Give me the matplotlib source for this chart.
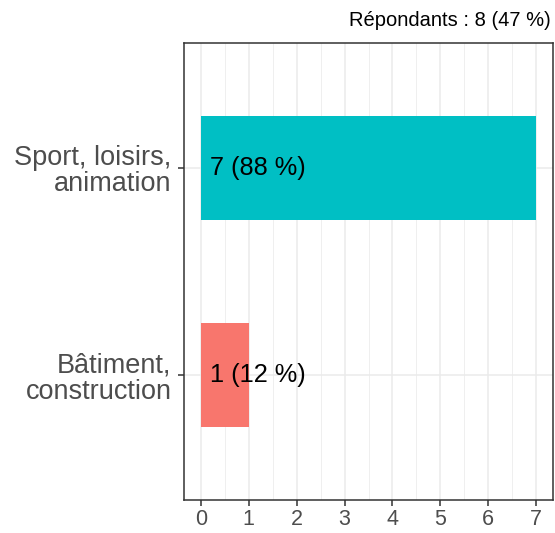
import matplotlib
matplotlib.use("Agg")
import matplotlib.pyplot as plt
from matplotlib.ticker import MultipleLocator

categories = ["Bâtiment,\nconstruction", "Sport, loisirs,\nanimation"]
values = [1, 7]
labels = ["1 (12 %)", "7 (88 %)"]
colors = ["#F8766D", "#00BFC4"]
title = "Répondants : 8 (47 %)"

plt.rcParams['font.family'] = ['Liberation Sans', 'DejaVu Sans']
W, H = 555, 533
fig = plt.figure(figsize=(W/100, H/100), dpi=100)
ax = fig.add_axes([184/W, 1-500/H, (553-184)/W, (500-43)/H])

ypos = [2, 1]
ax.barh(ypos, values, height=0.5, color=colors, zorder=3)
for y, v, lab in zip(ypos, values, labels):
    ax.annotate(lab, (0, y), xytext=(6.5, 0), textcoords="offset points",
                ha="left", va="center", fontsize=18.3, color="black", zorder=4)

ax.set_xlim(-0.35, 7.35)
ax.set_ylim(2.6, 0.4)
ax.xaxis.set_major_locator(MultipleLocator(1))
ax.xaxis.set_minor_locator(MultipleLocator(0.5))
ax.set_yticks(ypos)
ax.set_yticklabels(categories, ha="right", multialignment="right", linespacing=1.02)
ax.grid(True, which="major", axis="both", color="#EBEBEB", linewidth=1.1, zorder=0)
ax.grid(True, which="minor", axis="x", color="#EBEBEB", linewidth=0.55, zorder=0)
ax.tick_params(axis="x", which="major", labelsize=15.5, colors="#333333", labelcolor="#4D4D4D", length=4, width=1.1, pad=2.5)
ax.tick_params(axis="y", which="major", labelsize=19.5, colors="#333333", labelcolor="#4D4D4D", length=4, width=1.1, pad=5)
ax.tick_params(which="minor", length=0)
for s in ax.spines.values():
    s.set_color("#333333")
    s.set_linewidth(1.1)
ax.set_axisbelow(True)

fig.text(551/W, 1-20/H, title, ha="right", va="center", fontsize=14.5, color="black")
fig.savefig("out.png", dpi=100)
